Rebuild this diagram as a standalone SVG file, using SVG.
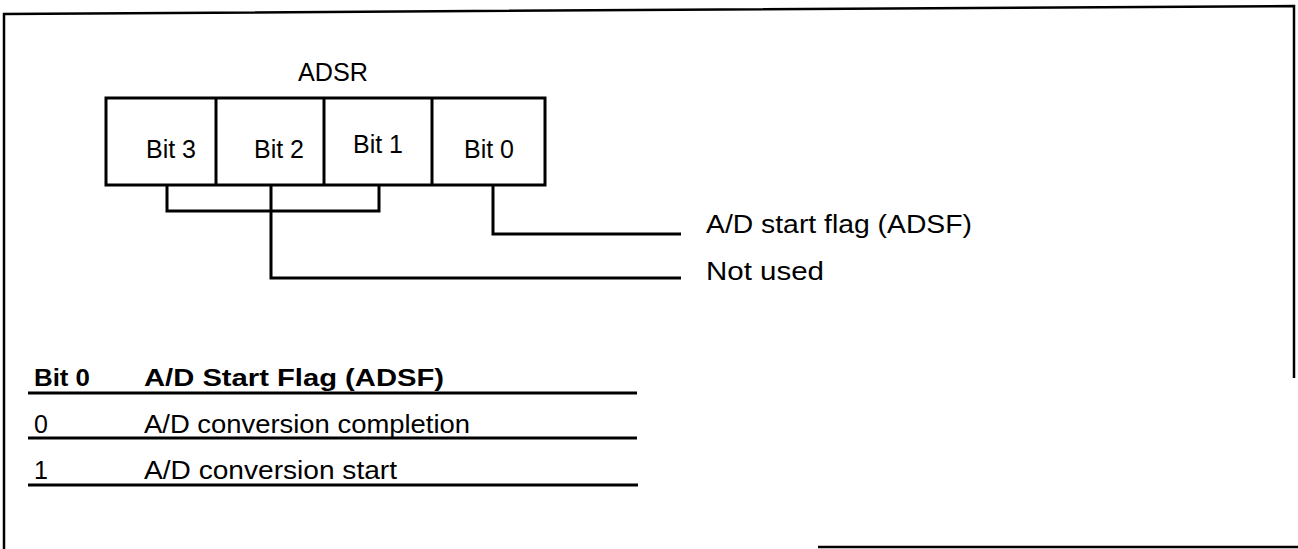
<svg xmlns="http://www.w3.org/2000/svg" width="1298" height="549" viewBox="0 0 1298 549">
<style>
  text { font-family: "Liberation Sans", Arial, Helvetica, sans-serif; fill: #000; }
  .t { font-size: 25px; }
  .b { font-size: 24px; font-weight: bold; }
  .ln { stroke: #000; stroke-width: 3; fill: none; }
  .thin { stroke: #000; stroke-width: 2.5; fill: none; }
  .cell { fill: #fff; stroke: #000; stroke-width: 3; }
</style>
<rect width="1298" height="549" fill="#fff"/>
<g id="frame">
  <path class="thin" d="M4,549 L4,14 L1294,6 L1294,378"/>
  <line class="thin" x1="818" y1="547" x2="1298" y2="547"/>
</g>
<g id="register">
  <text class="t" x="333" y="81" text-anchor="middle" textLength="70" lengthAdjust="spacingAndGlyphs">ADSR</text>
  <rect class="cell" x="106" y="98" width="439" height="87"/>
  <line class="ln" x1="216" y1="98" x2="216" y2="185"/>
  <line class="ln" x1="324" y1="98" x2="324" y2="185"/>
  <line class="ln" x1="432" y1="98" x2="432" y2="185"/>
  <text class="t" x="171" y="158" text-anchor="middle">Bit 3</text>
  <text class="t" x="279" y="158" text-anchor="middle">Bit 2</text>
  <text class="t" x="378" y="153" text-anchor="middle">Bit 1</text>
  <text class="t" x="489" y="158" text-anchor="middle">Bit 0</text>
</g>
<g id="connectors">
  <path class="ln" d="M167,185 L167,211 L379,211 L379,185"/>
  <path class="ln" d="M271,185 L271,278 L681,278"/>
  <path class="ln" d="M493,185 L493,234 L681,234"/>
</g>
<g id="label-adsf">
  <text class="t" x="706" y="233" textLength="266" lengthAdjust="spacingAndGlyphs">A/D start flag (ADSF)</text>
</g>
<g id="label-notused">
  <text class="t" x="706" y="280" textLength="118" lengthAdjust="spacingAndGlyphs">Not used</text>
</g>
<g id="table">
  <text class="b" x="34" y="386" textLength="56" lengthAdjust="spacingAndGlyphs">Bit 0</text>
  <text class="b" x="144" y="386" textLength="300" lengthAdjust="spacingAndGlyphs">A/D Start Flag (ADSF)</text>
  <line class="ln" x1="28" y1="393" x2="637" y2="393"/>
  <text class="t" x="34" y="433">0</text>
  <text class="t" x="144" y="433" textLength="326" lengthAdjust="spacingAndGlyphs">A/D conversion completion</text>
  <line class="ln" x1="28" y1="438" x2="637" y2="438"/>
  <text class="t" x="34" y="479">1</text>
  <text class="t" x="144" y="479" textLength="253" lengthAdjust="spacingAndGlyphs">A/D conversion start</text>
  <line class="ln" x1="28" y1="485" x2="638" y2="485"/>
</g>
</svg>
